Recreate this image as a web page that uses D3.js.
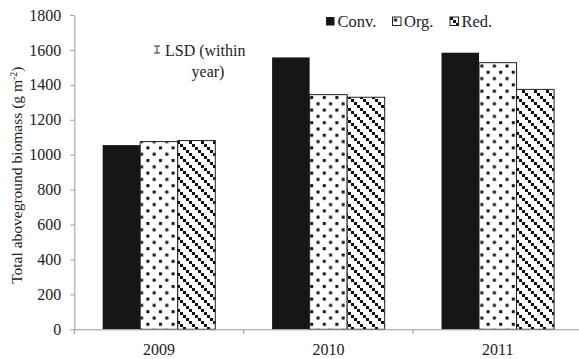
<!DOCTYPE html>
<html>
<head>
<meta charset="utf-8">
<script src="https://d3js.org/d3.v7.min.js"></script>
<style>
  body { margin: 0; background: #fff; }
  text { font-family: "Liberation Serif", "Times New Roman", serif; }
</style>
</head>
<body>
<div id="chart"></div>
<script>
// data
var years = ["2009", "2010", "2011"];
var series = ["Conv.", "Org.", "Red."];
var conv = [1055, 1557, 1584];
var org = [1075, 1344, 1527];
var red = [1081, 1329, 1374];
var yTicks = [0, 200, 400, 600, 800, 1000, 1200, 1400, 1600, 1800];
var lsd = 40;

var W = 579, H = 359;
var plotLeft = 74.3, plotRight = 582.5, plotTop = 15, plotBottom = 329.3;

var svg = d3.select("#chart").append("svg")
    .attr("width", W).attr("height", H);

// fill patterns
var defs = svg.append("defs");
var dots = defs.append("pattern")
    .attr("id", "dots").attr("patternUnits", "userSpaceOnUse")
    .attr("width", 12.6).attr("height", 12.6);
dots.append("rect").attr("width", 12.6).attr("height", 12.6).attr("fill", "#fff");
dots.append("rect").attr("x", 1.5).attr("y", 1.5).attr("width", 3).attr("height", 3).attr("fill", "#111");
dots.append("rect").attr("x", 7.8).attr("y", 7.8).attr("width", 3).attr("height", 3).attr("fill", "#111");

var diag = defs.append("pattern")
    .attr("id", "diag").attr("patternUnits", "userSpaceOnUse")
    .attr("width", 12).attr("height", 12);
diag.append("rect").attr("width", 12).attr("height", 12).attr("fill", "#fff");
[0, 3, 6, 9].forEach(function (o) {
  diag.append("rect").attr("x", o).attr("y", o).attr("width", 3).attr("height", 3).attr("fill", "#111");
});

var fills = {"Conv.": "#161616", "Org.": "url(#dots)", "Red.": "url(#diag)"};
var values = {"Conv.": conv, "Org.": org, "Red.": red};

var x = d3.scaleBand().domain(years).range([plotLeft, plotRight]);
var gap = 28.4;
var x1 = d3.scaleBand().domain(series).range([gap, x.bandwidth() - gap]);
var y = d3.scaleLinear().domain([0, 1800]).range([plotBottom, plotTop]);

// bars
series.forEach(function (s) {
  svg.append("g").selectAll("rect")
    .data(values[s])
    .enter().append("rect")
      .attr("x", function (d, i) { return x(years[i]) + x1(s); })
      .attr("y", function (d) { return y(d); })
      .attr("width", x1.bandwidth())
      .attr("height", function (d) { return y(0) - y(d); })
      .attr("fill", fills[s])
      .attr("stroke", s === "Conv." ? "none" : "#222")
      .attr("stroke-width", 1);
});

// y axis
var yAxis = svg.append("g")
    .attr("transform", "translate(" + plotLeft + ",0)")
    .call(d3.axisLeft(y).tickValues(yTicks).tickFormat(d3.format("d"))
      .tickSize(4).tickPadding(9).tickSizeOuter(0));
yAxis.select(".domain").attr("stroke", "#999");
yAxis.selectAll(".tick line").attr("stroke", "#999");
yAxis.selectAll(".tick text").style("font-size", "16px").attr("fill", "#222");

// x axis
var xAxis = svg.append("g")
    .attr("transform", "translate(0," + plotBottom + ")")
    .call(d3.axisBottom(x).tickSize(0).tickPadding(14));
xAxis.select(".domain").attr("stroke", "#999");
xAxis.selectAll(".tick text").style("font-size", "16px").attr("fill", "#222");
xAxis.selectAll(".sep")
    .data(years)
    .enter().append("line")
      .attr("x1", function (d) { return x(d); })
      .attr("x2", function (d) { return x(d); })
      .attr("y1", 0).attr("y2", 5)
      .attr("stroke", "#999");

// y label
svg.append("text")
    .attr("transform", "translate(22," + ((plotTop + plotBottom) / 2 + 3) + ") rotate(-90)")
    .attr("text-anchor", "middle")
    .style("font-size", "15.5px")
    .attr("fill", "#222")
    .html('Total aboveground biomass (g m<tspan dy="-5" font-size="10">-2</tspan><tspan dy="5">)</tspan>');

// LSD marker, drawn at the scale of the y axis
var lx = 157, ly = 49.5;
var half = (y(0) - y(lsd)) / 2;
var lsdG = svg.append("g").attr("stroke", "#333").attr("stroke-width", 1);
lsdG.append("line").attr("x1", lx).attr("x2", lx).attr("y1", ly - half).attr("y2", ly + half);
lsdG.append("line").attr("x1", lx - 3).attr("x2", lx + 3).attr("y1", ly - half).attr("y2", ly - half);
lsdG.append("line").attr("x1", lx - 3).attr("x2", lx + 3).attr("y1", ly + half).attr("y2", ly + half);
svg.append("text").attr("x", 165).attr("y", 56).style("font-size", "16px").attr("fill", "#222").text("LSD (within");
svg.append("text").attr("x", 208).attr("y", 77).attr("text-anchor", "middle").style("font-size", "16px").attr("fill", "#222").text("year)");

// legend
var legX = [326, 392.5, 450];
var leg = svg.append("g").selectAll("g")
    .data(series)
    .enter().append("g")
      .attr("transform", function (d, i) { return "translate(" + legX[i] + ",17)"; });
leg.append("rect")
    .attr("width", 8.5).attr("height", 8.5)
    .attr("fill", function (d) { return fills[d]; })
    .attr("stroke", function (d) { return d === "Conv." ? "none" : "#222"; });
leg.append("text")
    .attr("x", 11.5).attr("y", 9.5)
    .style("font-size", "16.5px").attr("fill", "#222")
    .text(function (d) { return d; });
</script>
</body>
</html>
